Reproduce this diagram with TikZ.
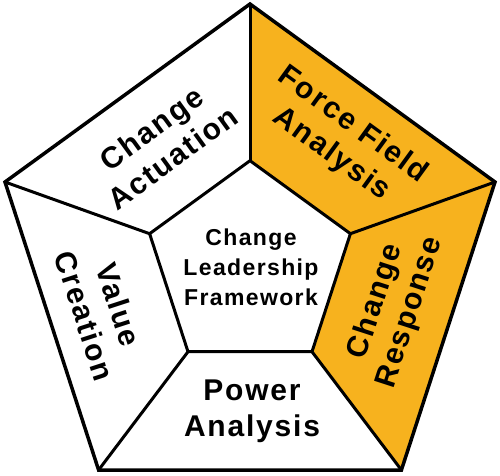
\documentclass[tikz,border=0pt]{standalone}
\usepackage{fontspec}
\setmainfont{Liberation Sans}
\newfontfamily\lblfont[LetterSpace=6]{Liberation Sans}
\usetikzlibrary{positioning}
\definecolor{ffgold}{RGB}{247,178,30}

\begin{document}
\begin{tikzpicture}[x=1pt,y=-1pt, every node/.style={font=\lblfont\bfseries\fontsize{30}{36}\selectfont, align=center, inner sep=0pt}, edge/.style={line width=3.5pt}]
\useasboundingbox (0,0) rectangle (500,475);
% outer and inner pentagon corners
\coordinate (ot) at (250,4); \coordinate (or) at (495,182); \coordinate (obr) at (401.4,470);
\coordinate (obl) at (98.6,470); \coordinate (ol) at (5,182);
\coordinate (it) at (250,160.7); \coordinate (ir) at (350.4,233.7); \coordinate (ibr) at (312,351.7);
\coordinate (ibl) at (188,351.7); \coordinate (il) at (149.6,233.7);
\fill[ffgold] (ot)--(or)--(obr)--(ibr)--(ir)--(it)--cycle;
\draw[edge] (ot)--(or)--(obr)--(obl)--(ol)--cycle;
\draw[edge,line width=3pt] (it)--(ir)--(ibr)--(ibl)--(il)--cycle;
\foreach \a in {t,r,br,bl,l} \draw[edge,line width=3pt] (o\a)--(i\a);
% labels
\node[font=\lblfont\bfseries\fontsize{23}{30}\selectfont] (core) at (251,267) {Change\\Leadership\\Framework};
\node[rotate=36] (actuation) at (162,143) {Change\\Actuation};
\node[rotate=-36] (forcefield) at (342,140) {Force Field\\Analysis};
\node[rotate=72] (response) at (393,307) {Change\\Response};
\node[rotate=-72] (creation) at (102,310) {Value\\Creation};
\node (power) at (252,411) {Power\\Analysis};
\end{tikzpicture}
\end{document}
